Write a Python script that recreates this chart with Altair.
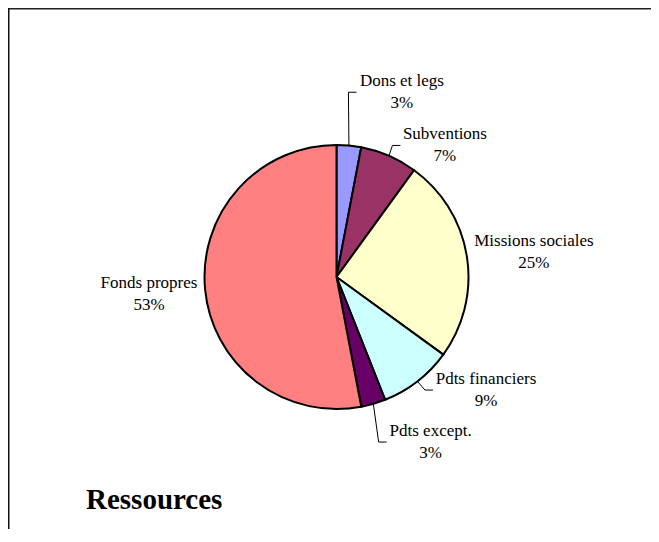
import math
import altair as alt
import pandas as pd

# ---- data ----
categories = ["Dons et legs", "Subventions", "Missions sociales",
              "Pdts financiers", "Pdts except.", "Fonds propres"]
values = [3, 7, 25, 9, 3, 53]
colors = ["#9999FF", "#993366", "#FFFFCC", "#CCFFFF", "#660066", "#FF8080"]
title_text = "Ressources"

# ---- layout (pixels / degrees) ----
W, H = 643, 521
CX, CY, R = 328.5, 269, 132
label_angle = [19.5, 39.5, 82.8, 127.1, 150.3, 264.8]   # clockwise from north
label_dist = [196, 170.5, 199, 187.4, 190, 188.3]
label_halfwidth = [43.5, 42.5, 61, 51, 42, 50]
has_leader = [True, True, False, True, True, False]
FONT = "Liberation Serif"
FS = 17

total = sum(values)
rows, lab_rows, lead_rows = [], [], []
cum = 0
for i, (c, v) in enumerate(zip(categories, values)):
    mid = (cum + v / 2) / total * 2 * math.pi
    cum += v
    rows.append({"category": c, "value": v, "idx": i})
    a = math.radians(label_angle[i])
    lab_rows.append({"category": c, "pct": f"{round(v / total * 100)}%",
                     "lt": a, "lr": label_dist[i]})
    if has_leader[i]:
        lx = CX + label_dist[i] * math.sin(a)
        ly = CY - label_dist[i] * math.cos(a)
        sx = CX + R * math.sin(mid)
        sy = CY - R * math.cos(mid)
        left = lx - label_halfwidth[i]
        pts = [(sx, sy), (left - 10, ly), (left - 2, ly)]
        for k, (px, py) in enumerate(pts):
            lead_rows.append({"category": c, "k": k, "px": px, "py": py})

df = pd.DataFrame(rows)
labels = pd.DataFrame(lab_rows)
leaders = pd.DataFrame(lead_rows)
dummy = pd.DataFrame({"a": [0]})

pie = alt.Chart(df).mark_arc(radius=R, stroke="black", strokeWidth=2).encode(
    theta=alt.Theta("value:Q", stack=True),
    order=alt.Order("idx:Q"),
    color=alt.Color("category:N", scale=alt.Scale(domain=categories, range=colors), legend=None),
    x=alt.value(CX),
    y=alt.value(CY),
)

name_txt = alt.Chart(labels).mark_text(font=FONT, fontSize=FS, color="black",
                                        align="center", baseline="middle", dy=-11).encode(
    theta=alt.Theta("lt:Q", scale=None, stack=False),
    radius=alt.Radius("lr:Q", scale=None),
    x=alt.value(CX), y=alt.value(CY),
    text="category:N",
)
pct_txt = alt.Chart(labels).mark_text(font=FONT, fontSize=FS, color="black",
                                       align="center", baseline="middle", dy=11).encode(
    theta=alt.Theta("lt:Q", scale=None, stack=False),
    radius=alt.Radius("lr:Q", scale=None),
    x=alt.value(CX), y=alt.value(CY),
    text="pct:N",
)

lead = alt.Chart(leaders).mark_line(color="black", strokeWidth=1).encode(
    x=alt.X("px:Q", scale=None),
    y=alt.Y("py:Q", scale=None),
    detail="category:N",
    order="k:Q",
)

frame_top = alt.Chart(dummy).mark_rule(color="#222222", strokeWidth=1.5).encode(
    x=alt.value(0), x2=alt.value(W), y=alt.value(0.75))
frame_left = alt.Chart(dummy).mark_rule(color="#111111", strokeWidth=1.5).encode(
    x=alt.value(0.75), y=alt.value(0), y2=alt.value(H))

title = alt.Chart(dummy).mark_text(text=title_text, font=FONT, fontSize=29, fontWeight="bold",
                                   color="black", align="left", baseline="alphabetic").encode(
    x=alt.value(78), y=alt.value(501))

chart = alt.layer(frame_top, frame_left, pie, lead, name_txt, pct_txt, title).properties(
    width=W, height=H,
    autosize=alt.AutoSizeParams(type="none"),
    padding=0,
    background="white",
).configure_view(stroke=None)

chart.save("out.html", embed_options={"renderer": "svg", "actions": False})
